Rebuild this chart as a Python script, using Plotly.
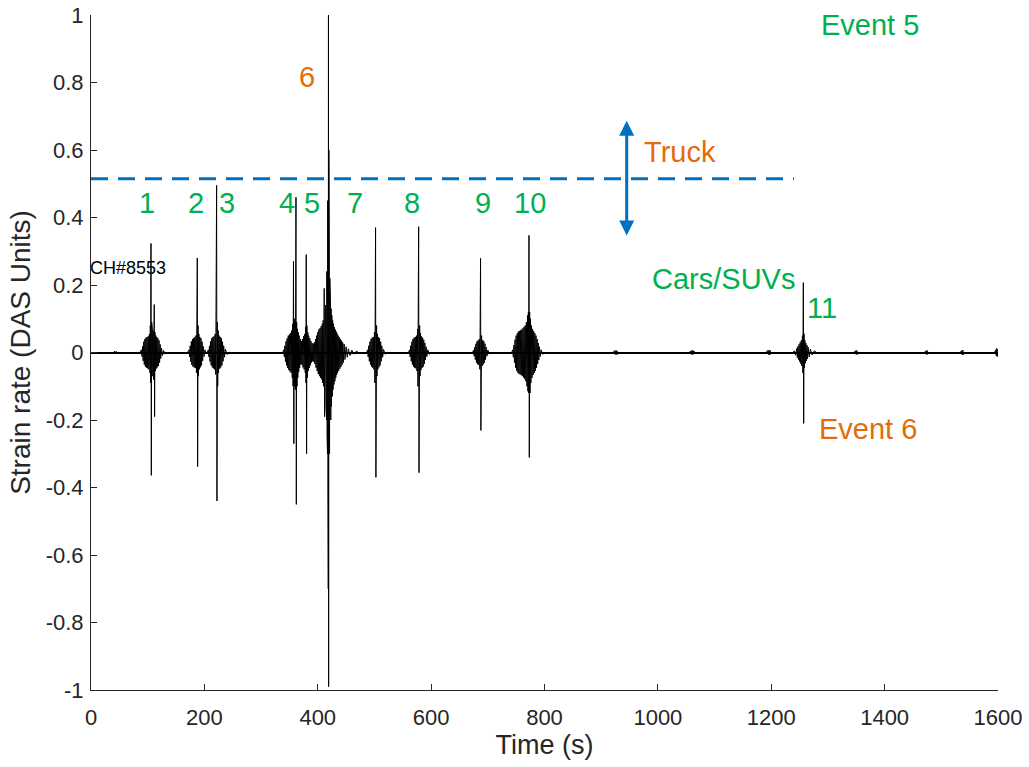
import plotly.graph_objects as go

# ---------------- data ----------------
# each event: list of (time s, strain rate) samples
event1 = [(86,0),(89,0.008),(90,-0.012),(91,0.018),(92,-0.025),(93,0.032),(94,-0.036),(95,0.04),(96,-0.042),(97,0.044),
          (98,-0.045),(99,0.046),(100,-0.047),(101,0.048),(102,-0.05),(103,0.055),(104,-0.06),(104.6,0.08),(105.2,-0.09),
          (105.8,0.323),(106.4,-0.364),(107,0.09),(107.6,-0.085),(108.3,0.07),(109,-0.07),(109.7,0.065),(110.4,-0.08),
          (111,0.09),(111.6,0.142),(112.2,-0.19),(112.8,0.06),(113.5,-0.055),(114.3,0.05),(115,-0.048),(116,0.046),
          (117,-0.044),(118,0.042),(119,-0.04),(120,0.036),(121,-0.03),(122,0.024),(123,-0.018),(124.5,0.013),
          (126,-0.009),(128,0.006),(131,-0.004),(135,0)]
event2 = [(170,0),(173,0.008),(174,-0.013),(175,0.02),(176,-0.027),(177,0.033),(178,-0.037),(179,0.04),(180,-0.042),
          (181,0.043),(182,-0.044),(183,0.045),(184,-0.046),(185,0.05),(186,-0.06),(186.8,0.09),(187.5,0.28),(188.1,-0.338),
          (188.8,0.08),(189.5,-0.07),(190.3,0.055),(191,-0.05),(192,0.046),(193,-0.044),(194,0.042),(195,-0.038),
          (196,0.032),(197,-0.025),(198,0.018),(199.5,-0.012),(201,0.008),(203,0)]
event3 = [(205,0),(207,0.008),(208,-0.013),(209,0.02),(210,-0.027),(211,0.033),(212,-0.038),(213,0.042),(214,-0.044),
          (215,0.046),(216,-0.047),(217,0.048),(218,-0.05),(219,0.055),(220,-0.065),(220.8,0.1),(221.6,0.495),(222.2,-0.44),
          (222.8,0.09),(223.5,-0.1),(224.3,0.065),(225,-0.06),(226,0.05),(227,-0.048),(228,0.046),(229,-0.044),(230,0.042),
          (231,-0.038),(232,0.032),(233,-0.026),(234,0.02),(235.5,-0.014),(237,0.01),(240,-0.006),(244,0)]
event4 = [(338,0),(340,0.008),(341,-0.013),(342,0.02),(343,-0.027),(344,0.033),(345,-0.038),(346,0.042),(347,-0.046),
          (348,0.05),(349,-0.052),(350,0.054),(351,-0.056),(352,0.058),(353,-0.06),(354,0.065),(355,-0.075),(355.8,0.085),
          (356.5,-0.1),(357.2,0.27),(357.8,-0.27),(358.5,0.1),(359.2,-0.1),(359.9,0.09),(360.5,-0.11),(361,0.12),
          (361.6,0.46),(362.2,-0.45),(362.8,0.09),(363.4,-0.1),(364.1,0.07),(364.8,-0.075),(365.6,0.06),(366.4,-0.058),
          (367.2,0.05),(368,-0.046),(369,0.04),(370,-0.036),(371,0.034)]
event5 = [(372,-0.036),(373,0.04),(374,-0.044),(375,0.048),(376,-0.05),(377,0.055),(378,-0.06),(378.7,0.075),(379.2,-0.09),
          (379.7,0.29),(380.3,-0.3),(380.9,0.08),(381.6,-0.075),(382.4,0.06),(383.2,-0.055),(384,0.05),(385,-0.046),
          (386,0.042),(387,-0.038),(388,0.034),(389,-0.03),(390,0.028),(391,-0.026),(392,0.026)]
event6 = [(393,-0.028),(394,0.03),(395,-0.034),(396,0.04),(397,-0.045),(398,0.05),(399,-0.055),(400,0.06),(401,-0.064),
          (402,0.068),(403,-0.07),(404,0.072),(405,-0.075),(406,0.078),(407,-0.08),(408,0.085),(408.8,-0.09),(409.5,0.095),
          (410.2,-0.1),(410.8,0.11),(411.4,0.19),(412,-0.19),(412.6,0.12),(413.2,-0.13),(413.8,0.14),(414.4,-0.16),
          (415,0.18),(415.5,-0.2),(416,0.24),(416.4,-0.25),(416.8,0.33),(417.2,-0.3),(417.6,0.45),(418,-0.42),(418.3,0.87),
          (418.6,-0.7),(418.9,1.0),(419.2,-0.99),(419.6,0.6),(420,-0.45),(420.4,0.3),(420.8,-0.3),(421.3,0.22),
          (421.8,-0.24),(422.4,0.16),(423,-0.2),(423.6,0.13),(424.2,-0.16),(424.9,0.11),(425.6,-0.13),(426.3,0.095),
          (427,-0.11),(427.8,0.085),(428.6,-0.095),(429.4,0.075),(430.2,-0.085),(431,0.068),(431.8,-0.075),(432.6,0.062),
          (433.4,-0.066),(434.2,0.056),(435,-0.06),(436,0.05),(437,-0.054),(438,0.045),(439,-0.048),(440,0.04),
          (441,-0.042),(442,0.035),(443,-0.036),(444,0.03),(445,-0.03),(446.5,0.025),(448,-0.021),(450,0.017),
          (452,-0.014),(454,0.011),(457,-0.009),(460,0.007),(464,-0.005),(468,0.004),(472,0)]
event7 = [(486,0),(488,0.008),(489,-0.013),(490,0.02),(491,-0.026),(492,0.032),(493,-0.036),(494,0.04),(495,-0.042),
          (496,0.044),(497,-0.045),(498,0.046),(499,-0.05),(500,0.06),(500.8,-0.09),(501.4,0.17),(502,0.37),(502.6,-0.37),
          (503.2,-0.15),(503.8,0.08),(504.5,-0.07),(505.3,0.055),(506,-0.05),(507,0.046),(508,-0.044),(509,0.042),
          (510,-0.038),(511,0.032),(512,-0.026),(513,0.02),(514.5,-0.014),(516,0.009),(519,-0.005),(523,0)]
event8 = [(560,0),(562,0.008),(563,-0.013),(564,0.02),(565,-0.026),(566,0.032),(567,-0.036),(568,0.04),(569,-0.042),
          (570,0.044),(571,-0.045),(572,0.046),(573,-0.047),(574,0.05),(575,-0.055),(576,0.07),(576.8,-0.1),(577.4,0.18),
          (578,0.373),(578.6,-0.356),(579.2,-0.14),(579.8,0.08),(580.5,-0.07),(581.3,0.058),(582,-0.052),(583,0.048),
          (584,-0.046),(585,0.044),(586,-0.042),(587,0.038),(588,-0.034),(589,0.028),(590,-0.022),(591,0.017),
          (592.5,-0.012),(594,0.008),(597,-0.005),(601,0)]
event9 = [(673,0),(675,0.007),(676,-0.011),(677,0.016),(678,-0.021),(679,0.026),(680,-0.03),(681,0.033),(682,-0.035),
          (683,0.036),(684,-0.037),(685,0.04),(686,-0.05),(686.6,0.12),(687.2,0.279),(687.8,-0.231),(688.4,-0.1),(689,0.05),
          (690,-0.04),(691,0.037),(692,-0.035),(693,0.033),(694,-0.03),(695,0.026),(696,-0.021),(697,0.016),
          (698.5,-0.011),(700,0.007),(703,-0.004),(707,0)]
event10 = [(742,0),(744,0.008),(745,-0.014),(746,0.022),(747,-0.03),(748,0.038),(749,-0.045),(750,0.05),(751,-0.054),
           (752,0.057),(753,-0.06),(754,0.062),(755,-0.063),(756,0.064),(757,-0.065),(758,0.066),(759,-0.067),(760,0.068),
           (761,-0.07),(762,0.072),(763,-0.074),(764,0.076),(765,-0.078),(766,0.08),(767,-0.085),(768,0.09),(769,-0.1),
           (770,0.11),(770.8,-0.115),(771.6,0.12),(772.2,-0.12),(772.6,0.347),(773.2,-0.311),(773.8,0.12),(774.5,-0.12),
           (775.3,0.1),(776,-0.09),(777,0.08),(778,-0.075),(779,0.07),(780,-0.066),(781,0.063),(782,-0.06),(783,0.057),
           (784,-0.054),(785,0.05),(786,-0.045),(787,0.04),(788,-0.034),(789,0.028),(790,-0.022),(791,0.017),
           (792.5,-0.012),(794,0.008),(797,-0.005),(801,0)]
event11 = [(1238,0),(1241,0.005),(1243,-0.008),(1245,0.012),(1246,-0.015),(1247,0.018),(1248,-0.021),(1249,0.024),
           (1250,-0.027),(1251,0.03),(1252,-0.033),(1253,0.036),(1254,-0.04),(1255,0.05),(1255.8,-0.06),(1256.6,0.207),
           (1257.2,-0.21),(1257.8,0.056),(1258.5,-0.045),(1259.3,0.036),(1260,-0.032),(1261,0.028),(1262,-0.025),
           (1263,0.022),(1264,-0.019),(1265,0.016),(1267,-0.013),(1269,0.01),(1272,-0.007),(1276,0.005),(1280,0)]
# small background blips along the quiet baseline
blips = [(0,0),(40,0),(42,0.004),(43,-0.004),(44,0.003),(46,0),(150,0),
         (920,0),(924,0.005),(925,-0.006),(926,0.006),(927,-0.006),(928,0.005),(929,-0.005),(932,0),
         (1055,0),(1059,0.005),(1060,-0.006),(1061,0.006),(1062,-0.006),(1063,0.005),(1066,0),
         (1190,0),(1194,0.006),(1195,-0.006),(1196,0.007),(1197,-0.007),(1198,0.006),(1199,-0.005),(1202,0),
         (1345,0),(1349,0.005),(1350,-0.006),(1351,0.006),(1352,-0.005),(1355,0),
         (1470,0),(1473,0.005),(1474,-0.006),(1475,0.006),(1476,-0.005),(1479,0),
         (1533,0),(1536,0.006),(1537,-0.007),(1538,0.007),(1539,-0.006),(1542,0),
         (1594,0),(1596,0.008),(1597,-0.01),(1598,0.012),(1599,-0.012),(1600,0.01)]

event_labels = ["1", "2", "3", "4", "5", "7", "8", "9", "10"]
event_label_t = [99, 185, 240, 345, 390, 466, 566, 691, 774]
event_label_y = 0.444

truck_threshold = 0.515
threshold_end_t = 1240
arrow_t = 945
arrow_range = [0.342, 0.687]

x_ticks = [0, 200, 400, 600, 800, 1000, 1200, 1400, 1600]
y_ticks = [-1, -0.8, -0.6, -0.4, -0.2, 0, 0.2, 0.4, 0.6, 0.8, 1]
y_tick_text = ["-1", "-0.8", "-0.6", "-0.4", "-0.2", "0", "0.2", "0.4", "0.6", "0.8", "1"]

# ---------------- build ----------------
samples = sorted(event1 + event2 + event3 + event4 + event5 + event6 + event7 +
                 event8 + event9 + event10 + event11 + blips, key=lambda p: p[0])
t = [p[0] for p in samples]
v = [p[1] for p in samples]

GREEN = "#00B050"
ORANGE = "#E36C0A"
BLUE = "#0070C0"
FONT = "Liberation Sans, Arial, sans-serif"
LBL = 29

fig = go.Figure()
fig.add_trace(go.Scatter(x=t, y=v, mode="lines", line=dict(color="black", width=1),
                         hoverinfo="skip", showlegend=False))
fig.add_trace(go.Scatter(x=[0, threshold_end_t], y=[truck_threshold, truck_threshold], mode="lines",
                         line=dict(color=BLUE, width=3, dash="17px,10px"), showlegend=False))

ann = []
for lab, lt in zip(event_labels, event_label_t):
    ann.append(dict(x=lt, y=event_label_y, text=lab, showarrow=False,
                    font=dict(color=GREEN, size=LBL, family=FONT)))
ann += [
    dict(x=1374, y=0.969, text="Event 5", showarrow=False, font=dict(color=GREEN, size=LBL, family=FONT)),
    dict(x=381, y=0.815, text="6", showarrow=False, font=dict(color=ORANGE, size=LBL, family=FONT)),
    dict(x=1039, y=0.593, text="Truck", showarrow=False, font=dict(color=ORANGE, size=LBL, family=FONT)),
    dict(x=1115, y=0.219, text="Cars/SUVs", showarrow=False, font=dict(color=GREEN, size=LBL, family=FONT)),
    dict(x=1290, y=0.133, text="11", showarrow=False, font=dict(color=GREEN, size=LBL, family=FONT)),
    dict(x=1371, y=-0.228, text="Event 6", showarrow=False, font=dict(color=ORANGE, size=LBL, family=FONT)),
    dict(x=66, y=0.249, text="CH#8553", showarrow=False, font=dict(color="black", size=18, family=FONT)),
    dict(x=arrow_t, y=arrow_range[1], ax=arrow_t, ay=arrow_range[0], xref="x", yref="y",
         axref="x", ayref="y", showarrow=True, arrowhead=2, arrowside="end+start",
         arrowwidth=3, arrowsize=1, arrowcolor=BLUE, text=""),
]

axis_font = dict(family=FONT, size=22, color="#262626")
fig.update_layout(
    width=1029, height=767,
    margin=dict(l=91, r=31, t=15, b=77, autoexpand=False),
    paper_bgcolor="white", plot_bgcolor="white",
    annotations=ann,
    xaxis=dict(range=[0, 1600], tickvals=x_ticks, ticks="inside", ticklen=6, tickcolor="#262626",
               showline=True, linecolor="#262626", linewidth=1, showgrid=False, zeroline=False,
               tickfont=axis_font, ticklabelstandoff=8, automargin=False, ticklabeloverflow="allow",
               title=dict(text="Time (s)", font=dict(family=FONT, size=27, color="#262626"), standoff=4)),
    yaxis=dict(range=[-1, 1], tickvals=y_ticks, ticktext=y_tick_text, ticks="inside", ticklen=6,
               tickcolor="#262626", showline=True, linecolor="#262626", linewidth=1, showgrid=False,
               zeroline=True, zerolinecolor="black", zerolinewidth=2, ticklabelstandoff=2,
               tickfont=axis_font, automargin=False, ticklabeloverflow="allow",
               title=dict(text="Strain rate (DAS Units)", font=dict(family=FONT, size=28, color="#262626"), standoff=6)),
)

fig.write_html("out.html")
